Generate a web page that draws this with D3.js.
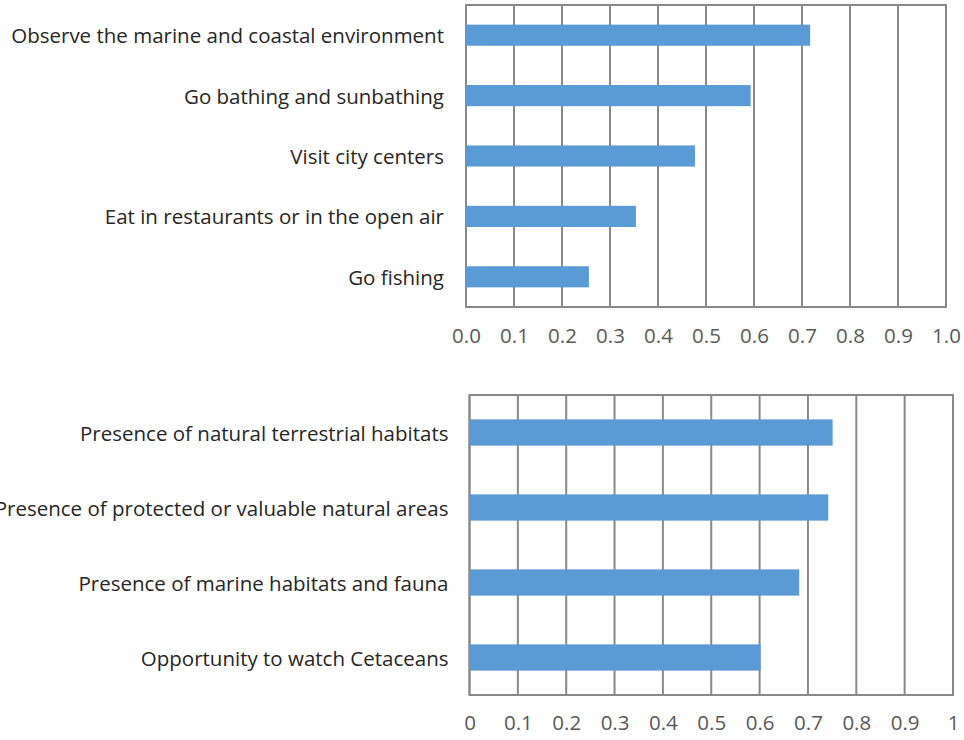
<!DOCTYPE html>
<html><head><meta charset="utf-8">
<script src="https://cdn.jsdelivr.net/npm/d3@7"></script>
<style>
body{margin:0;background:#fff;}
svg text{font-family:"Open Sans",Lato,sans-serif;}
</style></head>
<body><svg id="c" width="964" height="740"></svg>
<script>
const topCategories = ["Observe the marine and coastal environment","Go bathing and sunbathing","Visit city centers","Eat in restaurants or in the open air","Go fishing"];
const topValues = [0.717, 0.593, 0.477, 0.354, 0.256];
const topTicks = [0,0.1,0.2,0.3,0.4,0.5,0.6,0.7,0.8,0.9,1.0];
const topTickLabels = ["0.0","0.1","0.2","0.3","0.4","0.5","0.6","0.7","0.8","0.9","1.0"];

const botCategories = ["Presence of natural terrestrial habitats","Presence of protected or valuable natural areas","Presence of marine habitats and fauna","Opportunity to watch Cetaceans"];
const botValues = [0.751, 0.742, 0.682, 0.602];
const botTicks = [0,0.1,0.2,0.3,0.4,0.5,0.6,0.7,0.8,0.9,1];
const botTickLabels = ["0","0.1","0.2","0.3","0.4","0.5","0.6","0.7","0.8","0.9","1"];

const svg = d3.select("#c");
const gridColor = "#898989", barColor = "#5B9BD5", labelColor = "#262626", tickColor = "#595959";

function panel(cats, vals, ticks, tickLabels, box) {
  const x = d3.scaleLinear().domain([0,1]).range([box.x0, box.x1]);
  const y = d3.scaleBand().domain(cats).range([box.y0, box.y1]).paddingInner(box.pad).paddingOuter(box.pad/2);
  const g = svg.append("g");
  g.selectAll("line.grid").data(ticks).join("line")
    .attr("x1", d => x(d)).attr("x2", d => x(d))
    .attr("y1", box.y0).attr("y2", box.y1)
    .attr("stroke", gridColor).attr("stroke-width", 2);
  g.append("rect").attr("x", box.x0).attr("y", box.y0)
    .attr("width", box.x1 - box.x0).attr("height", box.y1 - box.y0)
    .attr("fill", "none").attr("stroke", gridColor).attr("stroke-width", 2);
  g.selectAll("rect.bar").data(vals).join("rect").attr("class","bar")
    .attr("x", x(0)).attr("y", (d,i) => y(cats[i]))
    .attr("width", d => x(d) - x(0)).attr("height", y.bandwidth())
    .attr("fill", barColor);
  g.selectAll("text.cat").data(cats).join("text").attr("class","cat")
    .attr("x", box.x0 - box.labelGap).attr("y", d => y(d) + y.bandwidth()/2)
    .attr("text-anchor","end").attr("dominant-baseline","central")
    .attr("font-size", box.fs).attr("fill", labelColor).text(d => d);
  const ax = d3.axisBottom(x).tickValues(ticks).tickFormat((d,i) => tickLabels[i]).tickSize(0).tickPadding(0);
  const ag = g.append("g").attr("transform", `translate(0,${box.tickY})`).call(ax);
  ag.select(".domain").remove();
  ag.selectAll("text").attr("font-size", box.fs).attr("fill", tickColor)
    .attr("dy", null).attr("dominant-baseline","central").attr("font-family","'Open Sans',Lato,sans-serif");
}

panel(topCategories, topValues, topTicks, topTickLabels,
  {x0:466, x1:946, y0:5, y1:307, pad:0.65, labelGap:22, fs:20.5, tickY:335});
panel(botCategories, botValues, botTicks, botTickLabels,
  {x0:469.5, x1:953, y0:395, y1:695, pad:0.65, labelGap:21, fs:20.5, tickY:722});
</script></body></html>
